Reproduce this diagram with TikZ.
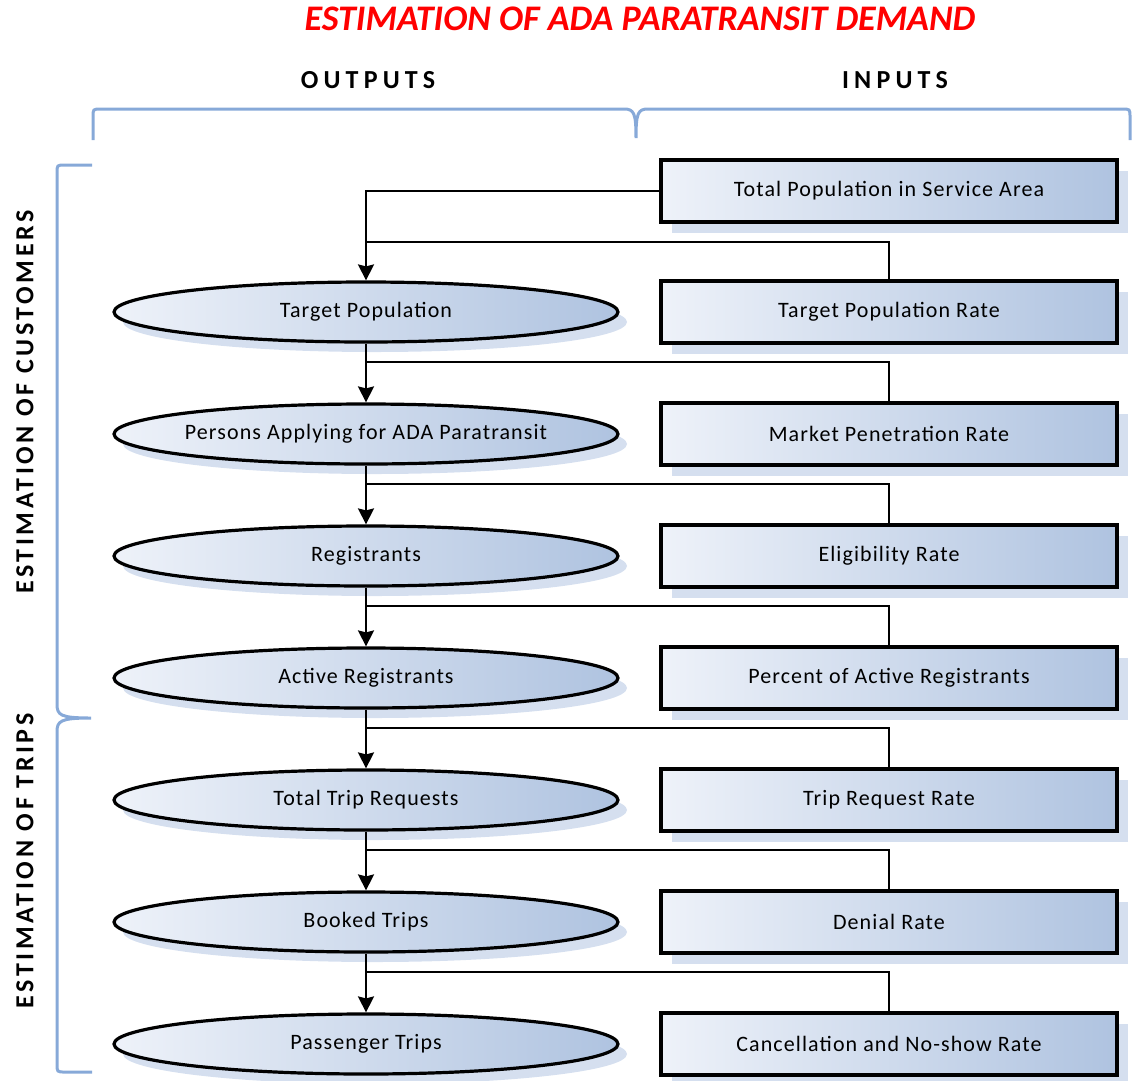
\documentclass[tikz,border=0pt]{standalone}
\usepackage{fontspec}
\setmainfont{Carlito}
\usetikzlibrary{arrows.meta,shadows,calc,shapes.geometric}
\definecolor{gradL}{HTML}{EEF2F9}
\definecolor{gradR}{HTML}{AFC3E0}
\definecolor{shadowc}{HTML}{D5DFEF}
\definecolor{bracec}{HTML}{87A9D8}
\definecolor{titlered}{HTML}{FF0000}
\newcommand{\ctext}[1]{\makebox[0pt][c]{#1}}
\tikzset{
  outnode/.style={ellipse, draw=black, line width=3.2pt, minimum width=504pt, minimum height=60pt,
    inner sep=0pt, left color=gradL, right color=gradR,
    drop shadow={shadow xshift=9pt, shadow yshift=-10pt, fill=shadowc, opacity=1},
    font=\fontsize{22}{26}\selectfont\addfontfeature{LetterSpace=5}},
  innode/.style={rectangle, draw=black, line width=3.5pt, minimum width=456pt, minimum height=62pt,
    inner sep=0pt, left color=gradL, right color=gradR,
    drop shadow={shadow xshift=11pt, shadow yshift=-11pt, fill=shadowc, opacity=1},
    font=\fontsize{22}{26}\selectfont\addfontfeature{LetterSpace=5}},
  flow/.style={line width=1.9pt, -{Stealth[length=16pt,width=16pt,inset=2pt]}},
  feed/.style={line width=1.6pt},
  bracket/.style={draw=bracec, line width=3pt},
  header/.style={font=\fontsize{26}{30}\selectfont\bfseries\addfontfeature{LetterSpace=20}},
  sidelabel/.style={rotate=90, font=\fontsize{26}{30}\selectfont\bfseries\addfontfeature{LetterSpace=14}},
}
\begin{document}
\begin{tikzpicture}[x=1pt,y=-1pt]
\useasboundingbox (0,0) rectangle (1133,1080);
% title and headers
\node[text=titlered, font=\fontsize{36}{40}\selectfont\bfseries\itshape] (title) at (640,19) {ESTIMATION OF ADA PARATRANSIT DEMAND};
\node[header] (hout) at (368,80) {OUTPUTS};
\node[header] (hin) at (895,80) {INPUTS};
% brackets
\draw[bracket] (93,140) -- (93,117) .. controls (93,109) .. (101,109) -- (624,109)
  .. controls (634,109) and (636,113) .. (636,138)
  .. controls (636,113) and (638,109) .. (648,109) -- (1122,109)
  .. controls (1130,109) .. (1130,117) -- (1130,140);
\draw[bracket] (92,165) -- (65,165) .. controls (57,165) .. (57,173) -- (57,704)
  .. controls (57,715) and (60,718) .. (91,718)
  .. controls (60,718) and (57,721) .. (57,732) -- (57,1064)
  .. controls (57,1072) .. (65,1072) -- (92,1072);
\node[sidelabel] (lcust) at (25,402) {ESTIMATION OF CUSTOMERS};
\node[sidelabel] (ltrips) at (25,861) {ESTIMATION OF TRIPS};
% input boxes
\node[innode] (r0) at (889,191) {Total Population in Service Area};
\node[innode] (r1) at (889,312) {Target Population Rate};
\node[innode] (r2) at (889,434) {Market Penetration Rate};
\node[innode] (r3) at (889,556) {Eligibility Rate};
\node[innode] (r4) at (889,678) {Percent of Active Registrants};
\node[innode] (r5) at (889,800) {Trip Request Rate};
\node[innode] (r6) at (889,922) {Denial Rate};
\node[innode] (r7) at (889,1044) {Cancellation and No-show Rate};
% output ellipses
\node[outnode] (e1) at (366,312) {\ctext{Target Population}};
\node[outnode] (e2) at (366,434) {\ctext{Persons Applying for ADA Paratransit}};
\node[outnode] (e3) at (366,556) {\ctext{Registrants}};
\node[outnode] (e4) at (366,678) {\ctext{Active Registrants}};
\node[outnode] (e5) at (366,800) {\ctext{Total Trip Requests}};
\node[outnode] (e6) at (366,922) {\ctext{Booked Trips}};
\node[outnode] (e7) at (366,1044) {\ctext{Passenger Trips}};
% junctions
\coordinate (j1) at (366,242);
\coordinate (j2) at (366,362);
\coordinate (j3) at (366,484);
\coordinate (j4) at (366,606);
\coordinate (j5) at (366,728);
\coordinate (j6) at (366,850);
\coordinate (j7) at (366,972);
% connectors
\draw[flow] (r0.west) -| (e1.north);
\draw[feed] (r1.north) |- (j1);
\foreach \a/\b in {1/2,2/3,3/4,4/5,5/6,6/7}{
  \draw[flow] (e\a.south) -- (e\b.north);
  \draw[feed] (r\b.north) |- (j\b);
}
\end{tikzpicture}
\end{document}
